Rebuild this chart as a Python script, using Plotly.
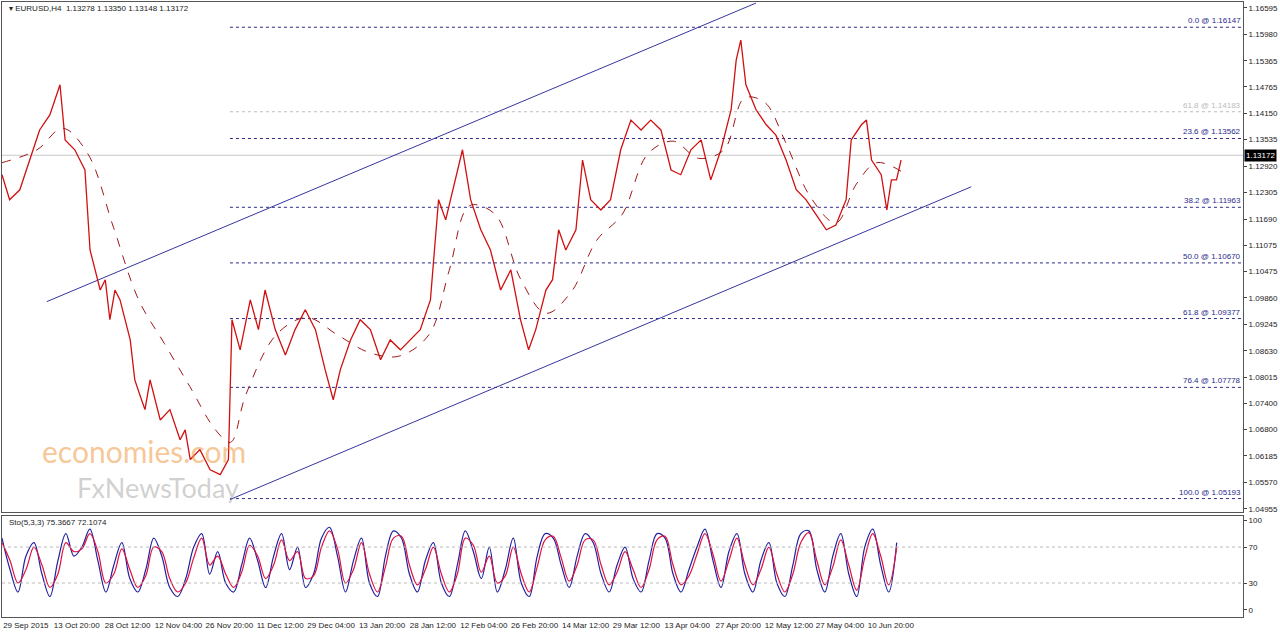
import plotly.graph_objects as go

# time in "label steps" (one step = one x-axis label interval)
tick_text = ["29 Sep 2015", "13 Oct 20:00", "28 Oct 12:00", "12 Nov 04:00", "26 Nov 20:00",
             "11 Dec 12:00", "29 Dec 04:00", "13 Jan 20:00", "28 Jan 12:00", "12 Feb 04:00",
             "26 Feb 20:00", "14 Mar 12:00", "29 Mar 12:00", "13 Apr 04:00", "27 Apr 20:00",
             "12 May 12:00", "27 May 04:00", "10 Jun 20:00"]

price_t = [-0.39, -0.24, -0.04, 0.16, 0.35, 0.55, 0.75, 0.85, 1.04, 1.24, 1.34, 1.44, 1.54,
           1.64, 1.73, 1.83, 1.93, 2.13, 2.22, 2.32, 2.42, 2.52, 2.72, 2.91, 3.11, 3.21, 3.31,
           3.5, 3.7, 3.9, 4.06, 4.13, 4.29, 4.49, 4.65, 4.78, 4.98, 5.18, 5.37, 5.57, 5.77,
           5.96, 6.12, 6.26, 6.46, 6.65, 6.85, 7.05, 7.24, 7.44, 7.64, 7.83, 8.03, 8.19, 8.33,
           8.52, 8.66, 8.82, 9.02, 9.21, 9.41, 9.61, 9.8, 9.96, 10.1, 10.3, 10.43, 10.55, 10.69,
           10.89, 11.02, 11.18, 11.38, 11.57, 11.77, 11.97, 12.17, 12.36, 12.56, 12.76, 12.95,
           13.15, 13.35, 13.54, 13.74, 13.94, 14.04, 14.13, 14.23, 14.43, 14.63, 14.82, 15.02,
           15.22, 15.41, 15.61, 15.81, 16.0, 16.2, 16.3, 16.5, 16.6, 16.7, 16.89, 17.0, 17.09,
           17.19, 17.28]
price = [1.1272, 1.1214, 1.1237, 1.1306, 1.1376, 1.1411, 1.1481, 1.1353, 1.1330, 1.1283,
         1.1097, 1.1051, 1.1004, 1.1028, 1.0935, 1.1004, 1.0981, 1.0888, 1.0795, 1.0760,
         1.0726, 1.0795, 1.0702, 1.0726, 1.0656, 1.0679, 1.0610, 1.0633, 1.0586, 1.0575,
         1.0610, 1.0935, 1.0865, 1.0981, 1.0912, 1.1004, 1.0912, 1.0853, 1.0912, 1.0958,
         1.0912, 1.0819, 1.0749, 1.0819, 1.0888, 1.0935, 1.0912, 1.0842, 1.0888, 1.0865,
         1.0888, 1.0912, 1.0981, 1.1214, 1.1167, 1.1260, 1.1330, 1.1214, 1.1144, 1.1097,
         1.1004, 1.1051, 1.0935, 1.0865, 1.0912, 1.1004, 1.1028, 1.1144, 1.1097, 1.1144,
         1.1306, 1.1214, 1.1190, 1.1214, 1.1330, 1.1399, 1.1376, 1.1399, 1.1376, 1.1283,
         1.1272, 1.1330, 1.1353, 1.1260, 1.1330, 1.1423, 1.1539, 1.1585, 1.1481, 1.1423,
         1.1388, 1.1364, 1.1306, 1.1237, 1.1214, 1.1179, 1.1144, 1.1155, 1.1214, 1.1353,
         1.1388, 1.1399, 1.1306, 1.1272, 1.1190, 1.1260, 1.1260, 1.1306]

ma_t = [-0.39, 0.3, 0.8, 1.3, 1.8, 2.3, 2.8, 3.3, 3.8, 4.1, 4.4, 5.0, 5.6, 6.2, 6.8, 7.4,
        8.0, 8.4, 8.8, 9.3, 9.8, 10.3, 10.8, 11.3, 11.8, 12.3, 12.8, 13.3, 13.8, 14.2,
        14.6, 15.0, 15.5, 16.0, 16.4, 16.8, 17.28]
ma = [1.1300, 1.1330, 1.1380, 1.1320, 1.1150, 1.0980, 1.0880, 1.0780, 1.0680, 1.0650,
      1.0760, 1.0900, 1.0940, 1.0900, 1.0860, 1.0850, 1.0900, 1.1050, 1.1200, 1.1180,
      1.1030, 1.0950, 1.1000, 1.1120, 1.1180, 1.1320, 1.1350, 1.1310, 1.1330, 1.1450,
      1.1440, 1.1350, 1.1220, 1.1160, 1.1250, 1.1300, 1.1280]

fib_levels = [1.16147, 1.14183, 1.13562, 1.11963, 1.10670, 1.09377, 1.07778, 1.05193]
fib_names = ["0.0", "61.8", "23.6", "38.2", "50.0", "61.8", "76.4", "100.0"]

channel_upper_t = [0.49, 14.43]
channel_upper_p = [1.0977, 1.1671]
channel_lower_t = [4.09, 18.66]
channel_lower_p = [1.0517, 1.1244]

last_price = 1.13172
y_ticks = [1.16595, 1.15980, 1.15365, 1.14765, 1.14150, 1.13535, 1.12920, 1.12305, 1.11690,
           1.11075, 1.10475, 1.09860, 1.09245, 1.08630, 1.08015, 1.07400, 1.06800, 1.06185,
           1.05570, 1.04955]

sto_main = [80, 45, 20, 60, 75, 40, 15, 55, 85, 60, 70, 90, 55, 20, 50, 75, 35, 20, 45,
            80, 60, 25, 15, 35, 70, 85, 40, 65, 30, 20, 50, 80, 55, 25, 60, 85, 45, 70, 25,
            40, 80, 92, 60, 20, 55, 80, 30, 15, 60, 88, 80, 40, 20, 55, 75, 30, 15, 50, 88,
            65, 35, 70, 20, 45, 80, 30, 15, 60, 85, 80, 50, 25, 60, 85, 75, 40, 20, 50, 70,
            35, 20, 55, 85, 80, 40, 20, 45, 70, 90, 55, 25, 65, 85, 40, 20, 55, 75, 30, 15,
            50, 85, 88, 45, 20, 60, 85, 40, 15, 70, 90, 50, 20, 75]
sto_signal = [75, 55, 30, 45, 70, 50, 25, 40, 75, 65, 68, 85, 65, 30, 40, 68, 45, 25, 38,
              70, 65, 35, 20, 30, 58, 80, 50, 60, 40, 25, 42, 72, 60, 35, 50, 78, 55, 65, 35,
              38, 70, 88, 68, 30, 45, 75, 40, 20, 48, 80, 82, 50, 28, 45, 70, 40, 20, 40, 80,
              72, 42, 60, 30, 38, 70, 40, 20, 48, 78, 82, 58, 32, 50, 78, 78, 50, 28, 42, 65,
              45, 25, 45, 78, 82, 50, 28, 38, 62, 85, 62, 32, 55, 80, 50, 28, 45, 70, 40, 20,
              40, 75, 86, 55, 28, 48, 78, 50, 22, 58, 85, 60, 28, 70]
sto_t0, sto_dt = -0.39, 0.157

fig = go.Figure()
navy = "#2a2a8a"
for lvl, nm in zip(fib_levels, fib_names):
    col = "#bbbbbb" if (nm == "61.8" and lvl > 1.14) else navy
    fig.add_trace(go.Scatter(x=[4.09, 24.0], y=[lvl, lvl], mode="lines",
                             line=dict(color=col, width=1, dash="dot"), hoverinfo="skip"))
    fig.add_annotation(x=24.0, y=lvl, text=f"{nm} @ {lvl:.5f}", showarrow=False,
                       xanchor="right", yanchor="bottom", font=dict(size=8, color=col))

fig.add_trace(go.Scatter(x=[-0.39, 24.0], y=[last_price, last_price], mode="lines",
                         line=dict(color="#c8c8c8", width=1), hoverinfo="skip"))
fig.add_trace(go.Scatter(x=channel_upper_t, y=channel_upper_p, mode="lines",
                         line=dict(color="#3535a0", width=1)))
fig.add_trace(go.Scatter(x=channel_lower_t, y=channel_lower_p, mode="lines",
                         line=dict(color="#3535a0", width=1)))
fig.add_trace(go.Scatter(x=price_t, y=price, mode="lines",
                         line=dict(color="#d01010", width=1.3)))
fig.add_trace(go.Scatter(x=ma_t, y=ma, mode="lines", line_shape="spline",
                         line=dict(color="#a01818", width=1, dash="dash")))

sto_x = [sto_t0 + i * sto_dt for i in range(len(sto_main))]
fig.add_trace(go.Scatter(x=sto_x, y=sto_main, mode="lines", line_shape="spline",
                         line=dict(color="#2020a0", width=1.2), xaxis="x2", yaxis="y2"))
fig.add_trace(go.Scatter(x=sto_x, y=sto_signal, mode="lines", line_shape="spline",
                         line=dict(color="#e01040", width=1.2), xaxis="x2", yaxis="y2"))
for lv in [30, 70]:
    fig.add_trace(go.Scatter(x=[-0.39, 24.0], y=[lv, lv], mode="lines", xaxis="x2", yaxis="y2",
                             line=dict(color="#bbbbbb", width=1, dash="dot")))

ax = dict(range=[-0.39, 24.0], showgrid=False, zeroline=False, showline=True,
          linecolor="#555", mirror=True, ticks="", fixedrange=True, automargin=False)
fig.update_layout(
    width=1280, height=633, margin=dict(l=2, r=37, t=2, b=16, autoexpand=False),
    paper_bgcolor="white", plot_bgcolor="white", showlegend=False,
    font=dict(family="Liberation Sans", size=8, color="#222"),
    xaxis=dict(ax, showticklabels=False, anchor="y"),
    yaxis=dict(domain=[0.171, 1], range=[1.04885, 1.16734], side="right", tickvals=y_ticks,
               ticktext=[f"{v:.5f}" for v in y_ticks], showgrid=False, zeroline=False,
               showline=True, linecolor="#555", mirror=True, ticks="outside", ticklen=3,
               automargin=False, fixedrange=True),
    xaxis2=dict(ax, anchor="y2", tickvals=list(range(len(tick_text))), ticktext=tick_text,
                tickfont=dict(size=8), tickangle=0, ticklabeloverflow="allow",
                ticklabelshift=4),
    yaxis2=dict(domain=[0, 0.164], range=[-7.8, 104.4], side="right", tickvals=[0, 30, 70, 100],
                showgrid=False, zeroline=False, showline=True, linecolor="#555", mirror=True,
                ticks="outside", ticklen=3, automargin=False, fixedrange=True),
)
fig.add_annotation(xref="paper", yref="paper", x=0.004, y=1.0, xanchor="left", yanchor="top",
                   text="▾ EURUSD,H4  1.13278 1.13350 1.13148 1.13172", showarrow=False,
                   font=dict(size=8))
fig.add_annotation(xref="paper", yref="paper", x=0.004, y=0.164, xanchor="left", yanchor="top",
                   text="Sto(5,3,3) 75.3667 72.1074", showarrow=False, font=dict(size=8))
fig.add_annotation(xref="paper", yref="y", x=1.001, y=last_price, xanchor="left",
                   text="1.13172", showarrow=False, bgcolor="black",
                   font=dict(size=8, color="white"))
fig.add_annotation(x=0.35, y=1.0630, xanchor="left", text="economies.com", showarrow=False,
                   font=dict(size=30, color="rgba(240,150,60,0.55)", family="Lato"))
fig.add_annotation(x=1.05, y=1.0545, xanchor="left", text="FxNewsToday", showarrow=False,
                   font=dict(size=27, color="rgba(150,150,150,0.45)", family="Lato"))
fig.write_html("out.html", config={"displayModeBar": False},
               post_script="document.body.style.margin='0';document.body.style.overflow='hidden';")
